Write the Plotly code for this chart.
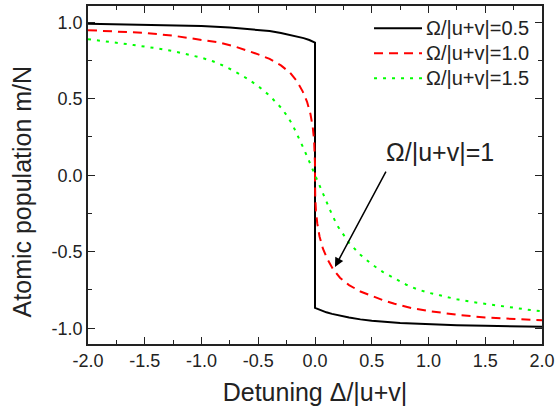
import plotly.graph_objects as go

# ---- data ----
x_black = [-2.0, -1.75, -1.5, -1.25, -1.0, -0.75, -0.5, -0.4, -0.3, -0.2, -0.15, -0.1, -0.05, 0.0,
           0.0, 0.05, 0.1, 0.15, 0.2, 0.3, 0.4, 0.5, 0.75, 1.0, 1.25, 1.5, 1.75, 2.0]
y_black = [0.990, 0.987, 0.984, 0.980, 0.975, 0.966, 0.951, 0.942, 0.930, 0.915, 0.906, 0.896, 0.884, 0.867,
           -0.867, -0.884, -0.896, -0.906, -0.915, -0.930, -0.942, -0.951, -0.966, -0.975, -0.980, -0.984, -0.987, -0.990]

x_red = [-2.0, -1.75, -1.5, -1.25, -1.0, -0.85, -0.7, -0.6, -0.5, -0.4, -0.3, -0.22, -0.16, -0.11,
         -0.07, -0.04, -0.02, -0.008, -0.002, -0.0003, 0.0,
         0.0003, 0.002, 0.008, 0.02, 0.04, 0.07, 0.11, 0.16, 0.22, 0.3, 0.4, 0.5, 0.6, 0.7, 0.85,
         1.0, 1.25, 1.5, 1.75, 2.0]
y_red = [0.948, 0.940, 0.930, 0.912, 0.887, 0.868, 0.840, 0.817, 0.790, 0.760, 0.718, 0.670, 0.615, 0.550,
         0.480, 0.400, 0.315, 0.230, 0.145, 0.075, 0.0,
         -0.075, -0.145, -0.230, -0.315, -0.400, -0.480, -0.550, -0.615, -0.670, -0.718, -0.760, -0.790, -0.817, -0.840, -0.868,
         -0.887, -0.912, -0.930, -0.940, -0.948]

x_green = [-2.0, -1.9, -1.75, -1.6, -1.5, -1.4, -1.25, -1.1, -1.0, -0.9, -0.8, -0.7, -0.6, -0.5, -0.4,
           -0.3, -0.25, -0.2, -0.15, -0.1, -0.05, 0.0,
           0.05, 0.1, 0.15, 0.2, 0.25, 0.3, 0.4, 0.5, 0.6, 0.7, 0.8, 0.9, 1.0, 1.1, 1.25, 1.4, 1.5,
           1.6, 1.75, 1.9, 2.0]
y_green = [0.889, 0.881, 0.866, 0.851, 0.841, 0.830, 0.811, 0.785, 0.768, 0.745, 0.714, 0.676, 0.633, 0.582, 0.520,
           0.442, 0.392, 0.333, 0.258, 0.175, 0.089, 0.0,
           -0.089, -0.175, -0.258, -0.333, -0.392, -0.442, -0.520, -0.582, -0.633, -0.676, -0.714, -0.745, -0.768, -0.785, -0.811, -0.830, -0.841,
           -0.851, -0.866, -0.881, -0.889]

series_names = ["Ω/|u+v|=0.5", "Ω/|u+v|=1.0", "Ω/|u+v|=1.5"]

x_tick_vals = [-2.0, -1.5, -1.0, -0.5, 0.0, 0.5, 1.0, 1.5, 2.0]
x_tick_text = ["-2.0", "-1.5", "-1.0", "-0.5", "0.0", "0.5", "1.0", "1.5", "2.0"]
y_tick_vals = [-1.0, -0.5, 0.0, 0.5, 1.0]
y_tick_text = ["-1.0", "-0.5", "0.0", "0.5", "1.0"]

x_title = "Detuning Δ/|u+v|"
y_title = "Atomic population m/N"

annot_text = "Ω/|u+v|=1"
annot_tip = (0.176, -0.599)
annot_tail = (0.632, 0.033)
annot_pos = (1.100, 0.152)

# ---- styling ----
FONT = "Arial, Liberation Sans, sans-serif"
AX = "#222222"
colors = ["#000000", "#ff0000", "#00ff00"]
dashes = ["solid", "9px,6px", "3px,6px"]

fig = go.Figure()
for xs, ys, name, c, d in zip([x_black, x_red, x_green], [y_black, y_red, y_green],
                              series_names, colors, dashes):
    fig.add_trace(go.Scatter(x=xs, y=ys, mode="lines", name=name,
                             line=dict(color=c, width=2, dash=d), showlegend=False))

axis_common = dict(
    showline=True, linecolor=AX, linewidth=1.5, mirror="allticks",
    ticks="inside", ticklen=7, tickwidth=1.2, tickcolor=AX,
    showgrid=False, zeroline=False,
    tickfont=dict(family=FONT, size=18, color=AX),
    minor=dict(ticks="inside", ticklen=4, tickwidth=1.2, tickcolor=AX, dtick=0.25, showgrid=False),
)

fig.update_xaxes(range=[-2.0, 2.0], tickmode="array", tickvals=x_tick_vals, ticktext=x_tick_text,
                 title=dict(text=x_title, font=dict(family=FONT, size=25, color=AX), standoff=13),
                 automargin=False, **axis_common)
fig.update_yaxes(range=[-1.103, 1.106], tickmode="array", tickvals=y_tick_vals, ticktext=y_tick_text,
                 automargin=False, **axis_common)

# y-axis title
fig.add_annotation(x=-0.145, y=0.452, xref="paper", yref="paper", text=y_title, textangle=-90,
                   showarrow=False, font=dict(family=FONT, size=25, color=AX),
                   xanchor="center", yanchor="middle")

# arrow (no text) and its label
fig.add_annotation(x=annot_tip[0], y=annot_tip[1], ax=annot_tail[0], ay=annot_tail[1],
                   xref="x", yref="y", axref="x", ayref="y", text="", showarrow=True,
                   arrowhead=2, arrowsize=1.2, arrowwidth=1.5, arrowcolor="black", standoff=0, startstandoff=0)
fig.add_annotation(x=annot_pos[0], y=annot_pos[1], xref="x", yref="y", text=annot_text, showarrow=False,
                   font=dict(family=FONT, size=25, color=AX))

# legend (drawn in paper coordinates)
leg_x0, leg_x1, leg_tx = 0.630, 0.7357, 0.739
leg_rows = [0.934, 0.860, 0.786]
for name, c, d, ry in zip(series_names, colors, dashes, leg_rows):
    fig.add_shape(type="line", xref="paper", yref="paper", x0=leg_x0, x1=leg_x1, y0=ry, y1=ry,
                  line=dict(color=c, width=2, dash=d))
    fig.add_annotation(x=leg_tx, y=ry, xref="paper", yref="paper", text=name, showarrow=False,
                       xanchor="left", yanchor="middle", font=dict(family=FONT, size=20, color=AX))

fig.update_layout(
    width=555, height=412,
    margin=dict(l=88, r=13, t=6, b=68),
    paper_bgcolor="white", plot_bgcolor="white",
    showlegend=False,
)

fig.write_html("out.html", config={"displayModeBar": False},
               post_script="document.body.style.margin='0px';")
